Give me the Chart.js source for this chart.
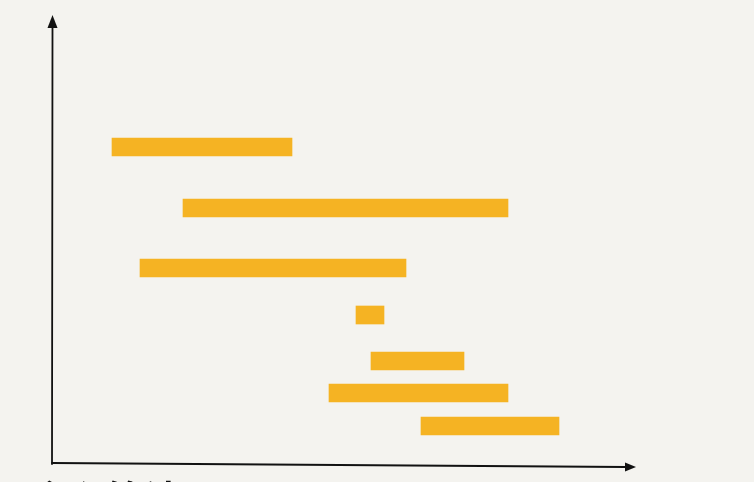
<!DOCTYPE html>
<html>
<head>
<meta charset="utf-8">
<script src="https://cdn.jsdelivr.net/npm/chart.js@4/dist/chart.umd.min.js"></script>
<style>
html,body{margin:0;padding:0;background:#f4f3ef;overflow:hidden;}
#wrap{position:relative;width:754px;height:482px;}
</style>
</head>
<body>
<div id="wrap"><canvas id="c" width="754" height="482"></canvas></div>
<script>
// Task intervals (x units) and row positions (y units, height above the x axis)
const tasks = ["任务1","任务2","任务3","任务4","任务5","任务6","任务7"];
const starts = [60, 131, 88, 304, 319, 277, 369];
const ends   = [240, 456, 354, 332, 412, 456, 507];
const rowY   = [316, 255, 195, 148, 102, 70, 37];
const titleText = "贪心算法";

const bg = '#f4f3ef';
const barColor = '#f5b323';

const bgPlugin = {
  id: 'bg',
  beforeDraw(chart) {
    const ctx = chart.ctx;
    ctx.save();
    ctx.fillStyle = bg;
    ctx.fillRect(0, 0, chart.width, chart.height);
    ctx.restore();
  }
};

const axesPlugin = {
  id: 'arrowAxes',
  afterDatasetsDraw(chart) {
    const ctx = chart.ctx;
    const xs = chart.scales.x, ys = chart.scales.y;
    const x0 = xs.getPixelForValue(0);
    const y0 = ys.getPixelForValue(0);
    const yTop = ys.getPixelForValue(ys.max);
    const xRight = xs.getPixelForValue(xs.max);
    ctx.save();
    ctx.strokeStyle = '#111';
    ctx.fillStyle = '#111';
    ctx.lineWidth = 1.8;
    ctx.lineCap = 'round';
    // y axis
    ctx.beginPath();
    ctx.moveTo(x0, y0 + 1);
    ctx.lineTo(x0 + 0.5, yTop + 10);
    ctx.stroke();
    ctx.beginPath();
    ctx.moveTo(x0 + 0.5, yTop - 3);
    ctx.lineTo(x0 - 4.5, yTop + 10);
    ctx.lineTo(x0 + 5.5, yTop + 10);
    ctx.closePath();
    ctx.fill();
    // x axis (slightly tilted, hand-drawn look)
    ctx.beginPath();
    ctx.moveTo(x0, y0);
    ctx.lineTo(xRight - 10, y0 + 4);
    ctx.stroke();
    ctx.beginPath();
    ctx.moveTo(xRight, y0 + 4);
    ctx.lineTo(xRight - 11, y0 - 0.5);
    ctx.lineTo(xRight - 11, y0 + 8.5);
    ctx.closePath();
    ctx.fill();
    // cut-off caption at the bottom
    ctx.font = 'bold 38px "Noto Sans CJK SC"';
    ctx.textBaseline = 'top';
    ctx.textAlign = 'left';
    ctx.fillText(titleText, 30, 480);
    ctx.restore();
  }
};

const data = tasks.map((t, i) => ({ x: [starts[i], ends[i]], y: rowY[i] }));

new Chart(document.getElementById('c'), {
  type: 'bar',
  data: {
    datasets: [{
      label: '区间',
      data: data,
      backgroundColor: barColor,
      borderWidth: 0,
      borderSkipped: false,
      barThickness: 18
    }]
  },
  options: {
    indexAxis: 'y',
    responsive: false,
    animation: false,
    layout: { padding: { left: 52, right: 118, top: 18, bottom: 19 } },
    scales: {
      x: { type: 'linear', min: 0, max: 584, display: false, offset: false },
      y: { type: 'linear', min: 0, max: 445, display: false, offset: false }
    },
    plugins: {
      legend: { display: false },
      tooltip: { enabled: false },
      title: { display: false }
    }
  },
  plugins: [bgPlugin, axesPlugin]
});
</script>
</body>
</html>
